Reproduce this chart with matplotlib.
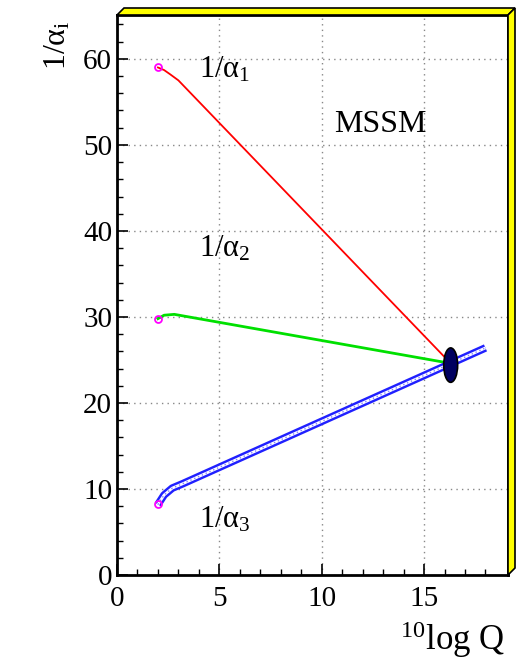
import matplotlib.pyplot as plt
from matplotlib.patches import Ellipse, Polygon

plt.rcParams['font.family'] = ['Liberation Serif', 'DejaVu Serif']
plt.rcParams['mathtext.fontset'] = 'stix'

# running couplings
logq_1 = [2.0, 2.3, 2.6, 3.0, 16.3]
inv_a1 = [59.0, 58.7, 58.2, 57.5, 24.6]
logq_2 = [2.0, 2.3, 2.8, 16.3]
inv_a2 = [29.8, 30.2, 30.3, 24.6]
logq_3 = [2.0, 2.3, 2.7, 3.2, 18.0]
inv_a3 = [8.2, 9.3, 10.1, 10.6, 26.4]
unif_q, unif_a = 16.3, 24.4

fig = plt.figure(figsize=(5.22, 6.65), dpi=100)
W, H = 522.0, 665.0
L, R, T, B = 117, 508, 15, 575
ax = fig.add_axes([L / W, 1 - B / H, (R - L) / W, (B - T) / H])

# yellow 3d frame on top and right
d = 7
top = [(L, T), (R, T), (R + d, T - d), (L + d, T - d)]
right = [(R, T), (R + d, T - d), (R + d, B - d), (R, B)]
for pts in (top, right):
    fig.patches.append(Polygon([(x / W, 1 - y / H) for x, y in pts], closed=True,
                               facecolor='#ffff00', edgecolor='black', lw=1.2,
                               transform=fig.transFigure, zorder=0))

ax.plot(logq_1, inv_a1, color='red', lw=1.3, zorder=3)
ax.plot(logq_2, inv_a2, color='#00e000', lw=2, zorder=3)
ax.plot(logq_3, inv_a3, color='#2020ff', lw=5.5, solid_capstyle='butt', zorder=3)
ax.plot(logq_3, inv_a3, color='white', lw=2, solid_capstyle='butt', zorder=3)
ax.plot(logq_3, inv_a3, color='#8080ff', lw=1, ls=(0, (1, 2)), zorder=3)
for xs, ys in ((logq_1, inv_a1), (logq_2, inv_a2), (logq_3, inv_a3)):
    ax.plot(xs[0], ys[0], 'o', mfc='none', mec='#ff00ff', ms=5, mew=1.3, zorder=4)

ax.add_patch(Ellipse((unif_q, unif_a), 0.68, 4.0, facecolor='#000060',
                     edgecolor='black', lw=1.2, zorder=5))

ax.text(4.0, 57.8, r'1/$\mathregular{\alpha_1}$', fontsize=22, zorder=6)
ax.text(4.0, 37.0, r'1/$\mathregular{\alpha_2}$', fontsize=22, zorder=6)
ax.text(4.0, 5.5, r'1/$\mathregular{\alpha_3}$', fontsize=22, zorder=6)
ax.text(10.6, 51.5, 'MSSM', fontsize=23, zorder=6)

ax.set_xlim(0, 19.1)
ax.set_ylim(0, 65.1)
ax.set_xticks([0, 5, 10, 15])
ax.set_yticks([0, 10, 20, 30, 40, 50, 60])
ax.set_xticks(range(0, 19), minor=True)
ax.set_yticks(range(0, 65, 2), minor=True)
ax.tick_params(direction='in', labelsize=21, length=8, width=1.2)
ax.tick_params(which='minor', direction='in', length=4, width=1)
ax.tick_params(axis='x', pad=8)
ax.grid(True, ls=(0, (1, 3)), color='#888888', lw=1)
for s in ax.spines.values():
    s.set_linewidth(2)

fig.text(58 / W, 1 - 45 / H, r'1/$\mathregular{\alpha_i}$', rotation=90,
         fontsize=23, ha='center', va='center')
fig.text(505 / W, 1 - 640 / H, r'$\mathregular{^{10}}$log Q', fontsize=25,
         ha='right', va='center')

fig.savefig('out.png', dpi=100)
